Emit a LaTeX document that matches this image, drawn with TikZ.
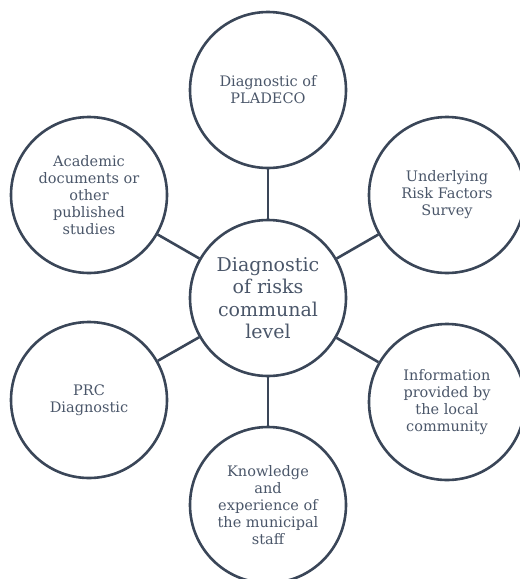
\documentclass[tikz,border=0pt]{standalone}
\usepackage{fontspec}
\setmainfont{DejaVu Serif}
\definecolor{ring}{HTML}{3A4658}
\definecolor{ink}{HTML}{4A5669}

\tikzset{
  source/.style={circle, draw=ring, line width=2.6pt, minimum size=156pt,
    inner sep=0pt, text=ink, align=center, font=\fontsize{14.5}{17}\selectfont},
  hub/.style={source, font=\fontsize{19}{22.5}\selectfont},
  link/.style={draw=ring, line width=2.6pt}
}

\begin{document}
\begin{tikzpicture}[x=1pt,y=-1pt]
   \useasboundingbox (0,0) rectangle (520,579);

   \node[hub] (C) at (268,298) {Diagnostic\\of risks\\communal\\level};

   \node[source] (S1) at (268,90)  {Diagnostic of\\PLADECO};
   \node[source] (S2) at (447,195) {Underlying\\Risk Factors\\Survey};
   \node[source] (S3) at (447,402) {Information\\provided by\\the local\\community};
   \node[source] (S4) at (268,505) {Knowledge\\and\\experience of\\the municipal\\staff};
   \node[source] (S5) at (89,400)  {PRC\\Diagnostic};
   \node[source] (S6) at (89,195)  {Academic\\documents or\\other\\published\\studies};

   \foreach \i in {1,...,6}
   {
      \draw[link] (C) -- (S\i);
   }
\end{tikzpicture}
\end{document}
